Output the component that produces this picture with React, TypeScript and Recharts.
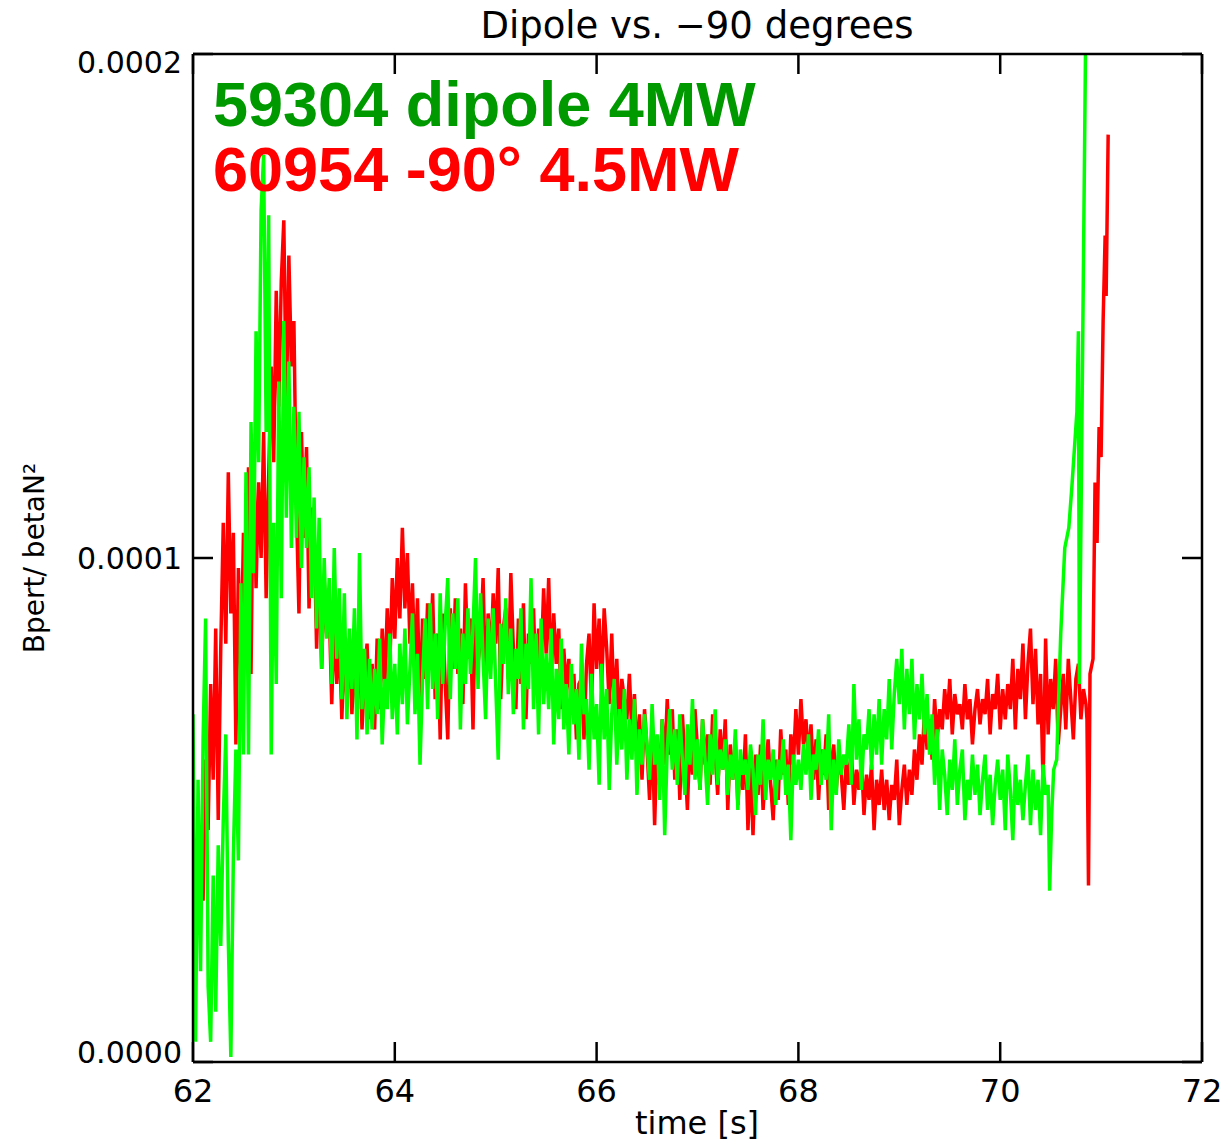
import { LineChart, Line, XAxis, YAxis } from 'recharts'

// values are in units of 1e-5 (axis labels convert back)
const xTicks = [62, 64, 66, 68, 70, 72]
const yTicks = [0, 10, 20]

// shot 59304 (dipole), sampled every 0.025 s from 62.000 s
const greenStart = 62.0
const greenStep = 0.025
const greenValues = [
  6.9, 0.4, 5.6, 1.8, 6.4, 8.8, 1.5, 0.4, 3.7, 1.0, // 62.00
  4.3, 2.3, 4.8, 6.5, 2.4, 0.1, 4.1, 6.2, 4.0, 9.5, // 62.25
  6.1, 11.7, 6.1, 12.7, 9.7, 14.5, 11.9, 16.9, 18.0, 12.5, // 62.50
  16.8, 6.1, 10.7, 7.5, 13.5, 9.2, 14.7, 10.8, 13.9, 10.2, // 62.75
  13.0, 10.4, 12.9, 9.8, 12.0, 10.2, 11.8, 9.2, 11.2, 8.6, // 63.00
  10.8, 7.8, 10.0, 8.4, 9.6, 7.5, 10.2, 8.0, 9.4, 7.2, // 63.25
  9.3, 6.8, 8.6, 7.4, 9.0, 6.4, 10.1, 7.0, 8.2, 6.5, // 63.50
  8.0, 6.6, 7.8, 6.9, 8.4, 6.3, 7.6, 7.0, 8.5, 6.8, // 63.75
  7.9, 6.5, 8.3, 7.1, 8.6, 6.7, 7.8, 8.9, 6.9, 8.1, // 64.00
  5.9, 7.6, 8.8, 7.0, 9.1, 7.4, 8.5, 6.8, 9.3, 7.5, // 64.25
  8.7, 9.6, 7.2, 8.9, 7.8, 9.2, 6.6, 8.5, 7.5, 9.0, // 64.50
  7.7, 8.6, 10.0, 7.4, 9.3, 8.0, 6.8, 8.8, 7.6, 9.0, // 64.75
  7.5, 6.0, 8.7, 7.9, 9.2, 7.3, 8.6, 6.9, 8.2, 7.6, // 65.00
  9.0, 6.6, 8.3, 7.4, 9.6, 7.0, 8.5, 6.5, 8.8, 7.1, // 65.25
  8.1, 7.0, 8.6, 6.3, 7.8, 6.8, 8.4, 6.6, 7.5, 6.1, // 65.50
  7.9, 6.7, 7.4, 6.0, 8.3, 6.9, 7.2, 5.8, 7.7, 6.4, // 65.75
  7.1, 5.5, 7.9, 6.4, 7.4, 5.4, 6.9, 7.6, 5.9, 7.0, // 66.00
  6.2, 7.4, 5.6, 6.8, 6.0, 7.2, 5.3, 6.6, 5.9, 6.9, // 66.25
  6.3, 5.6, 7.1, 5.9, 6.5, 5.2, 6.8, 4.5, 6.2, 7.0, // 66.50
  5.8, 6.6, 5.5, 6.9, 6.0, 5.3, 6.7, 5.9, 7.2, 5.6, // 66.75
  6.4, 5.4, 6.8, 6.0, 5.1, 6.5, 5.7, 7.0, 5.5, 6.2, // 67.00
  5.8, 6.4, 5.3, 6.1, 5.6, 6.6, 5.0, 6.2, 5.7, 6.0, // 67.25
  5.4, 6.3, 5.8, 4.9, 6.1, 5.5, 6.8, 5.2, 6.0, 5.6, // 67.50
  6.2, 5.1, 6.0, 5.6, 6.4, 5.3, 5.9, 4.4, 6.1, 5.5, // 67.75
  6.0, 5.4, 6.3, 5.7, 6.5, 5.2, 6.1, 5.8, 6.6, 5.5, // 68.00
  6.2, 5.6, 6.9, 4.6, 6.0, 5.3, 6.4, 5.7, 6.1, 5.9, // 68.25
  6.7, 5.5, 7.5, 6.0, 6.8, 5.4, 6.5, 6.2, 7.0, 5.8, // 68.50
  6.9, 6.1, 7.2, 5.9, 7.0, 6.4, 7.6, 6.2, 7.3, 8.0, // 68.75
  7.1, 8.2, 6.6, 7.8, 6.9, 8.0, 6.4, 7.5, 6.8, 7.7, // 69.00
  6.5, 7.3, 6.1, 6.9, 5.5, 6.6, 5.0, 6.2, 5.7, 4.9, // 69.25
  6.0, 5.4, 6.4, 5.1, 5.8, 6.2, 4.8, 5.6, 5.2, 6.1, // 69.50
  5.3, 5.9, 4.9, 5.6, 6.1, 5.0, 5.7, 4.7, 5.5, 6.0, // 69.75
  5.2, 5.8, 4.6, 6.1, 5.4, 4.4, 5.9, 5.1, 5.6, 4.8, // 70.00
  5.5, 6.1, 4.7, 5.8, 5.0, 5.6, 4.5, 5.9, 5.3, // 70.25
]
const greenTailTime = [70.475, 70.49, 70.51, 70.53, 70.56, 70.6, 70.64, 70.68, 70.71, 70.74, 70.76, 70.775, 70.785, 70.85]
const greenTailValue = [5.5, 3.4, 4.9, 5.8, 6.0, 8.5, 10.2, 10.6, 11.4, 12.3, 12.9, 14.5, 7.5, 21.0]

// shot 60954 (-90 degrees), sampled every 0.025 s from 62.100 s
const redStart = 62.1
const redStep = 0.025
const redValues = [
  3.2, 6.0, 4.6, 7.5, 5.6, 8.6, 4.8, 8.2, 10.7, 8.3, // 62.10
  11.7, 8.9, 10.5, 6.3, 9.8, 7.6, 10.5, 8.2, 11.8, 7.7, // 62.35
  12.3, 9.4, 11.5, 10.0, 12.5, 9.2, 11.6, 13.8, 11.9, 15.3, // 62.60
  13.0, 15.5, 16.7, 12.9, 16.0, 13.8, 14.7, 11.0, 8.9, 12.5, // 62.85
  10.4, 12.2, 9.0, 11.0, 10.6, 8.2, 10.0, 7.8, 9.6, 8.5, // 63.10
  9.0, 7.1, 8.8, 7.5, 8.5, 6.8, 8.2, 7.2, 8.4, 6.9, // 63.35
  8.1, 7.0, 8.5, 6.6, 7.7, 8.3, 6.8, 7.9, 6.6, 8.4, // 63.60
  7.0, 8.6, 7.4, 9.0, 7.8, 9.6, 8.4, 10.0, 8.8, 10.6, // 63.85
  9.0, 10.1, 8.3, 9.5, 7.8, 9.2, 6.8, 8.8, 7.6, 9.1, // 64.10
  8.0, 9.3, 7.2, 8.5, 6.4, 8.9, 7.5, 6.4, 9.0, 7.8, // 64.35
  9.2, 7.7, 8.6, 7.1, 9.5, 8.0, 8.8, 6.6, 9.3, 7.9, // 64.60
  8.4, 9.6, 7.4, 8.9, 7.9, 9.3, 8.3, 9.8, 7.2, 8.6, // 64.85
  9.0, 7.6, 9.7, 8.2, 7.0, 8.8, 7.5, 9.1, 6.8, 8.5, // 65.10
  7.9, 9.0, 7.3, 8.6, 7.8, 9.4, 8.1, 9.6, 7.6, 8.9, // 65.35
  7.9, 8.6, 7.0, 8.2, 7.4, 8.0, 6.9, 7.7, 6.4, 7.5, // 65.60
  7.6, 6.4, 7.9, 8.5, 7.0, 9.1, 7.8, 8.8, 7.4, 9.0, // 65.85
  8.2, 7.1, 8.5, 6.9, 8.0, 6.6, 7.6, 7.2, 6.8, 7.7, // 66.10
  6.5, 7.3, 6.0, 6.9, 5.6, 7.0, 6.2, 5.2, 6.7, 4.7, // 66.35
  6.4, 5.5, 6.8, 5.9, 7.2, 6.1, 7.0, 5.6, 6.6, 5.2, // 66.60
  6.9, 6.0, 5.0, 6.5, 5.7, 7.0, 6.2, 5.4, 6.8, 5.9, // 66.85
  6.5, 5.5, 6.9, 6.1, 5.3, 6.6, 5.8, 6.8, 5.0, 6.3, // 67.10
  5.6, 6.4, 5.1, 6.0, 5.4, 6.5, 4.6, 5.9, 4.5, 6.1, // 67.35
  5.3, 6.3, 5.0, 5.8, 6.4, 5.5, 4.8, 6.0, 5.2, 6.6, // 67.60
  5.7, 6.2, 5.1, 6.5, 5.9, 7.0, 6.1, 7.2, 6.3, 6.8, // 67.85
  6.0, 6.7, 5.6, 6.4, 5.2, 6.2, 5.7, 6.5, 5.0, 5.9, // 68.10
  6.3, 5.4, 6.1, 5.7, 5.0, 6.0, 5.5, 6.2, 5.1, 5.8, // 68.35
  5.4, 6.0, 4.9, 5.7, 5.2, 5.9, 4.6, 5.6, 5.1, 5.8, // 68.60
  5.0, 5.6, 4.8, 5.5, 5.2, 6.0, 4.7, 5.4, 5.9, 5.1, // 68.85
  5.8, 5.3, 6.2, 5.6, 6.5, 5.9, 7.0, 6.2, 6.8, 6.0, // 69.10
  7.2, 6.4, 7.0, 6.6, 7.4, 6.8, 7.6, 6.5, 7.3, 6.9, // 69.35
  7.1, 6.6, 7.5, 6.8, 7.2, 6.3, 7.0, 7.4, 6.7, 7.2, // 69.60
  6.9, 7.6, 6.5, 7.3, 7.0, 7.7, 6.6, 7.4, 6.8, 7.5, // 69.85
  7.0, 8.0, 6.6, 7.8, 7.2, 8.3, 6.8, 7.9, 8.6, 7.1, // 70.10
  8.2, 6.7, 7.7, 5.5, 8.4, 6.5, 7.6, 7.0, 8.0, 6.3, // 70.35
  7.0, 7.7, 6.6, 8.0, 7.2, 6.4, 7.6, 7.9, 6.8, 7.4, // 70.60
]
const redTailTime = [70.85, 70.86, 70.875, 70.89, 70.92, 70.94, 70.96, 70.98, 71.0, 71.02, 71.04, 71.05, 71.07]
const redTailValue = [7.1, 6.8, 3.5, 7.7, 8.0, 11.5, 10.3, 12.6, 12.0, 14.7, 16.4, 15.2, 18.4]

const greenData = greenValues
  .map((v, i) => ({ t: +(greenStart + i * greenStep).toFixed(3), v }))
  .concat(greenTailTime.map((t, i) => ({ t, v: greenTailValue[i] })))

const redData = redValues
  .map((v, i) => ({ t: +(redStart + i * redStep).toFixed(3), v }))
  .concat(redTailTime.map((t, i) => ({ t, v: redTailValue[i] })))

const fmtY = (v: number) => (v / 1e5).toFixed(4)

function YTick(props: any) {
  const { x, y, payload } = props
  // IDL keeps the end labels inside the frame
  let shift = 0
  if (payload.value === 20) shift = 8
  if (payload.value === 0) shift = -10
  return (
    <text x={x} y={y + shift} dy="0.36em" textAnchor="end" fontSize={30} fontFamily="DejaVu Sans" fill="#000">
      {fmtY(payload.value)}
    </text>
  )
}

const noLabel = () => <g />

const axisLine = { stroke: '#000', strokeWidth: 2.5 }
const tickLine = { stroke: '#000', strokeWidth: 2.5 }

export default function App() {
  return (
    <div style={{ position: 'absolute', left: 0, top: 0, width: 1223, height: 1143, background: '#fff' }}>
      <LineChart width={1223} height={1143} margin={{ top: 53, right: 20, bottom: 41, left: 0 }}>
        <XAxis
          xAxisId="bottom"
          dataKey="t"
          type="number"
          domain={[62, 72]}
          ticks={xTicks}
          interval={0}
          allowDataOverflow
          height={40}
          tickSize={-20}
          tickMargin={37}
          axisLine={axisLine}
          tickLine={tickLine}
          tick={{ fontSize: 32, fontFamily: 'DejaVu Sans', fill: '#000' }}
        />
        {/* mirrored frame axes, same ranges */}
        <XAxis
          xAxisId="top"
          orientation="top"
          dataKey="t"
          type="number"
          domain={[62, 72]}
          ticks={xTicks}
          interval={0}
          allowDataOverflow
          height={1}
          tickSize={-20}
          axisLine={axisLine}
          tickLine={tickLine}
          tick={noLabel}
        />
        <YAxis
          yAxisId="left"
          type="number"
          domain={[0, 20]}
          ticks={yTicks}
          interval={0}
          allowDataOverflow
          width={193}
          tickSize={-20}
          tickMargin={31}
          axisLine={axisLine}
          tickLine={tickLine}
          tick={<YTick />}
        />
        <YAxis
          yAxisId="right"
          orientation="right"
          type="number"
          domain={[0, 20]}
          ticks={yTicks}
          interval={0}
          allowDataOverflow
          width={1}
          tickSize={-20}
          axisLine={axisLine}
          tickLine={tickLine}
          tick={noLabel}
        />
        <Line
          data={redData}
          xAxisId="bottom"
          yAxisId="left"
          dataKey="v"
          type="linear"
          stroke="#ff0000"
          strokeWidth={3.5}
          dot={false}
          isAnimationActive={false}
        />
        <Line
          data={greenData}
          xAxisId="top"
          yAxisId="right"
          dataKey="v"
          type="linear"
          stroke="#00ff00"
          strokeWidth={3.5}
          dot={false}
          isAnimationActive={false}
        />
      </LineChart>
      <svg width={1223} height={1143} style={{ position: 'absolute', left: 0, top: 0, pointerEvents: 'none' }}>
        <text x={697} y={38} textAnchor="middle" fontSize={37} fontFamily="DejaVu Sans" fill="#000">
          Dipole vs. −90 degrees
        </text>
        <text x={213} y={126} fontSize={63} fontWeight="bold" fontFamily="Liberation Sans" fill="#009900">
          59304 dipole 4MW
        </text>
        <text x={213} y={191} fontSize={63} fontWeight="bold" fontFamily="Liberation Sans" fill="#ff0000">
          60954 -90° 4.5MW
        </text>
        <text x={697} y={1134} textAnchor="middle" fontSize={32} fontFamily="DejaVu Sans" fill="#000">
          time [s]
        </text>
        <text transform="translate(44,558) rotate(-90)" textAnchor="middle" fontSize={28} fontFamily="DejaVu Sans" fill="#000">
          Bpert/ betaN²
        </text>
      </svg>
    </div>
  )
}
